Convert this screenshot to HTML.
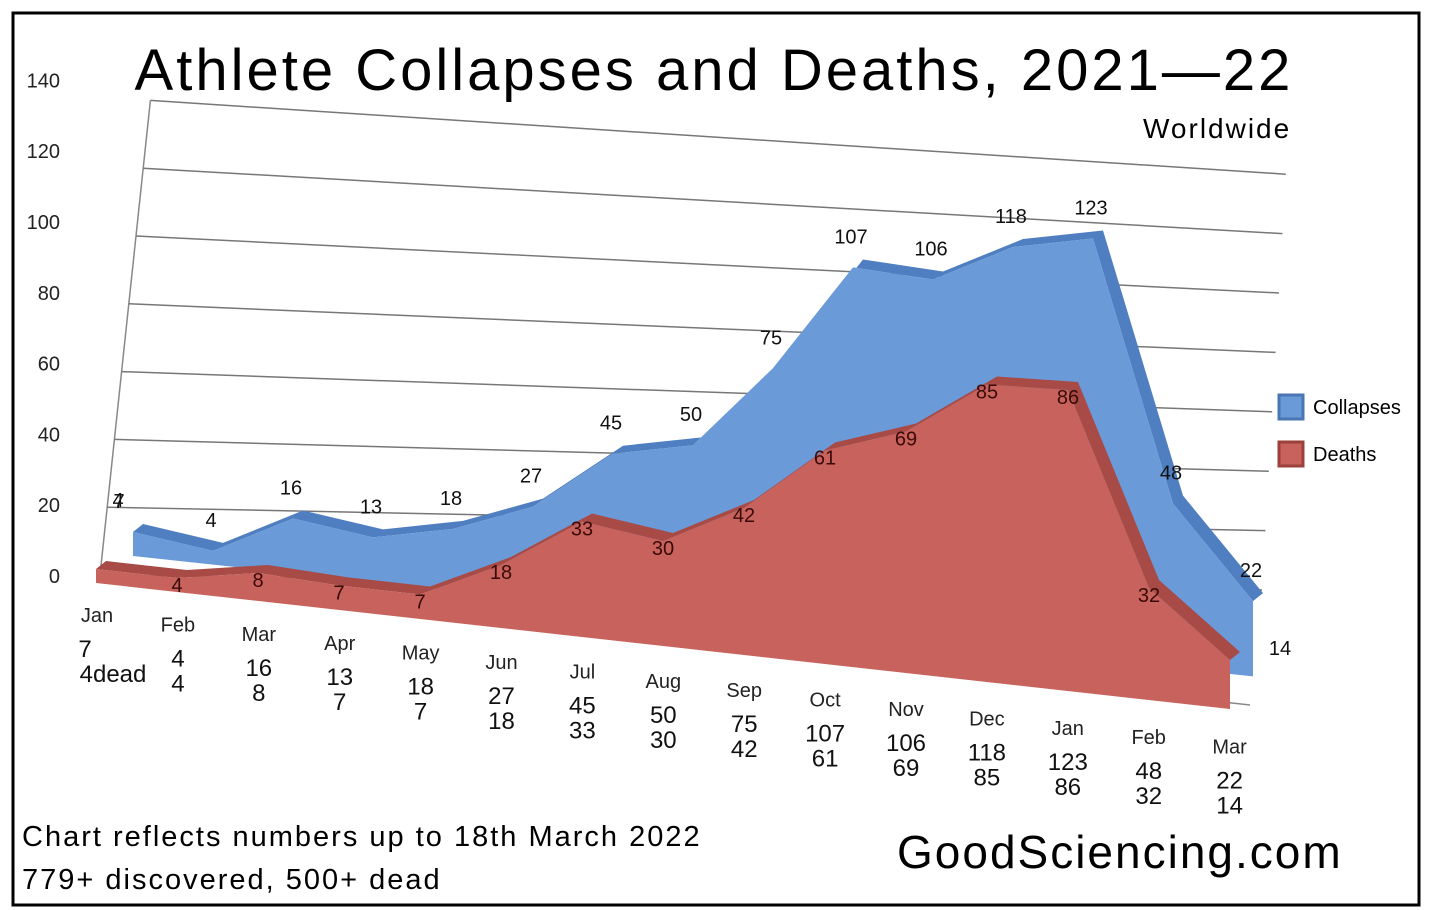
<!DOCTYPE html>
<html><head><meta charset="utf-8">
<style>
html,body{margin:0;padding:0;background:#fff;}
body{width:1432px;height:910px;overflow:hidden;position:relative;font-family:"Liberation Sans",sans-serif;}
svg{position:absolute;left:0;top:0;}
</style></head>
<body>
<svg id="chart" width="1432" height="910" viewBox="0 0 1432 910">
  <rect x="13" y="13" width="1406" height="892" fill="#fff" stroke="#000" stroke-width="3"/>
  <g id="grid"></g>
  <g id="areas"></g>
  <g id="labels"></g>
  <text x="714" y="90" text-anchor="middle" font-size="58" letter-spacing="3" font-family="Liberation Sans, sans-serif">Athlete Collapses and Deaths, 2021—22</text>
  <text x="1143" y="138" font-size="28" letter-spacing="2">Worldwide</text>
  <text x="22" y="846" font-size="29" letter-spacing="2">Chart reflects numbers up to 18th March 2022</text>
  <text x="22" y="889" font-size="29" letter-spacing="2">779+ discovered, 500+ dead</text>
  <text x="897" y="868" font-size="46" letter-spacing="2">GoodSciencing.com</text>
  <g>
    <rect x="1279" y="395" width="24" height="24" fill="#6a9ad8" stroke="#4a76b4" stroke-width="3"/>
    <text x="1313" y="414" font-size="20">Collapses</text>
    <rect x="1279" y="442" width="24" height="24" fill="#c8625c" stroke="#9c403b" stroke-width="3"/>
    <text x="1313" y="461" font-size="20">Deaths</text>
  </g>
</svg>
<script>
const months = ["Jan","Feb","Mar","Apr","May","Jun","Jul","Aug","Sep","Oct","Nov","Dec","Jan","Feb","Mar"];
const collapses = [7,4,16,13,18,27,45,50,75,107,106,118,123,48,22];
const deaths = [4,4,8,7,7,18,33,30,42,61,69,85,86,32,14];
const yTicks = [0,20,40,60,80,100,120,140];

const NS="http://www.w3.org/2000/svg";
function mk(tag,attrs,parent){const e=document.createElementNS(NS,tag);for(const k in attrs)e.setAttribute(k,attrs[k]);parent.appendChild(e);return e;}
// back wall axis
function wallLeft(v){return [100+v*0.36, 575-v*3.39];}
function wallRight(v){return [1262+v*0.17, 590-v*2.97];}
// collapses plane (back)
function cx(i){return 143+i*80;}
function cBase(i){return 548+i*8.6;}
function cy(i,v){return cBase(i)-v*3.42;}
// deaths plane (front)
function dx(i){return 106+i*81;}
function dBase(i){return 575+i*9;}
function dy(i,v){return dBase(i)-v*3.5;}

const grid=document.getElementById('grid');
const areas=document.getElementById('areas');
const labels=document.getElementById('labels');
// left wall edge
let l0=wallLeft(0),l1=wallLeft(140);
let e=mk('line',{x1:l0[0],y1:l0[1],x2:l1[0],y2:l1[1],stroke:'#888','stroke-width':1.5},grid);


yTicks.forEach(v=>{
  const a=wallLeft(v),b=wallRight(v);
  const ln=mk('line',{x1:a[0],y1:a[1],x2:b[0],y2:b[1],stroke:'#777','stroke-width':1.5},grid);
  
  
  const t=mk('text',{x:60,y:a[1]+8-v*0.15,'text-anchor':'end','font-size':20,fill:'#222'},grid);
  t.textContent=v;
  
  
});
// floor front edge
let fe=mk('line',{x1:100,y1:578,x2:1250,y2:705,stroke:'#888','stroke-width':1.5},grid);



function area(xf,yf,basef,vals,fill,dark,name){
  let top=vals.map((v,i)=>[xf(i),yf(i,v)]);
  let pts=top.map(p=>p.join(',')).join(' ');
  const n=vals.length;
  let poly=pts+' '+xf(n-1)+','+basef(n-1)+' '+xf(0)+','+basef(0);
  // extrusion (depth) face
  let depth=top.map(p=>(p[0]-10)+','+(p[1]+8));
  let side=mk('polygon',{points:pts+' '+depth.reverse().join(' '),fill:dark},areas);
  
  
  let front=top.map(p=>(p[0]-10)+','+(p[1]+8)).join(' ')+' '+(xf(n-1)-10)+','+(basef(n-1)+8)+' '+(xf(0)-10)+','+(basef(0)+8);
  let f=mk('polygon',{points:front,fill:fill},areas);
  
  
}
area(cx,cy,cBase,collapses,'#6a9ad8','#4f7fc0','collapses');
area(dx,dy,dBase,deaths,'#c8625c','#a84a45','deaths');

collapses.forEach((v,i)=>{
  const t=mk('text',{x:cx(i)-12+(i==0?-12:0),y:cy(i,v)-16,'text-anchor':'middle','font-size':20,fill:'#111'},labels);
  t.textContent=v;
  
  
});
deaths.forEach((v,i)=>{
  const t=mk('text',{x:dx(i)+(i==0?12:-10),y:dy(i,v)+(i==0?-22:22),'text-anchor':'middle','font-size':20,fill:'#3a0a08'},labels);
  if(i==0){t.setAttribute('x',118);t.setAttribute('y',507);t.setAttribute('fill','#111');}
  if(i==14){t.setAttribute('x',1280);t.setAttribute('y',655);t.setAttribute('fill','#111');}
  t.textContent=v;
  
  
});
months.forEach((m,i)=>{
  const x=97+i*80.9, y=622+i*9.4;
  const t=mk('text',{x:x,y:y,'text-anchor':'middle','font-size':20,fill:'#222'},labels);
  t.textContent=m;
  
  
  const a=mk('text',{x:x+(i==0?-12:0),y:y+35,'text-anchor':'middle','font-size':24,fill:'#111'},labels);
  a.textContent=collapses[i];
  
  
  const b=mk('text',{x:x+(i==0?16:0),y:y+60,'text-anchor':'middle','font-size':24,fill:'#111'},labels);
  b.textContent=deaths[i]+(i==0?'dead':'');
  
  
});
</script>
</body></html>
